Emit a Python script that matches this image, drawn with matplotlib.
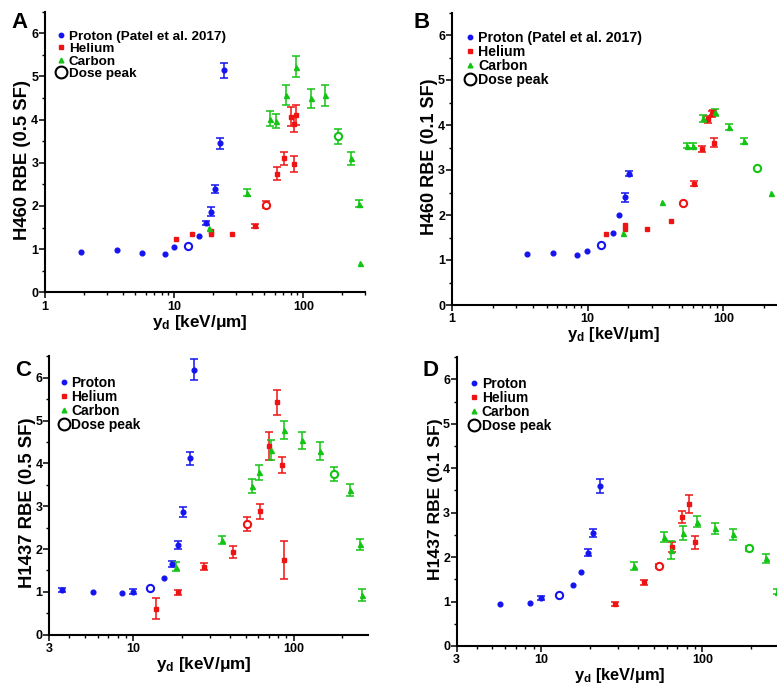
import numpy as np
import matplotlib
matplotlib.use("Agg")
import matplotlib.pyplot as plt
from matplotlib.lines import Line2D
from matplotlib.ticker import FixedLocator, NullFormatter, MultipleLocator

plt.rcParams['font.family'] = ['Liberation Sans', 'DejaVu Sans']
plt.rcParams['font.weight'] = 'bold'
plt.rcParams['axes.labelweight'] = 'bold'
plt.rcParams['mathtext.fontset'] = 'custom'
plt.rcParams['mathtext.bf'] = 'Liberation Sans:bold'
plt.rcParams['mathtext.rm'] = 'Liberation Sans:bold'
plt.rcParams['mathtext.it'] = 'Liberation Sans:bold'

# ---- H460, RBE at 0.5 SF ----
a_pro_x = [1.9, 3.6, 5.6, 8.45, 10.0, 15.7, 17.5, 19.2, 20.7, 22.8, 24.2]
a_pro_y = [0.93, 0.97, 0.92, 0.88, 1.05, 1.31, 1.61, 1.87, 2.39, 3.45, 5.14]
a_pro_e = [0, 0, 0, 0, 0, 0, 0.05, 0.1, 0.1, 0.12, 0.17]
a_he_x = [10.4, 13.7, 19.2, 19.2, 28.0, 42.2, 62.2, 71.3, 79.8, 84.7, 88.2, 84.7]
a_he_y = [1.24, 1.34, 1.35, 1.42, 1.36, 1.54, 2.75, 3.10, 4.07, 3.90, 4.11, 2.97]
a_he_e = [0, 0, 0, 0, 0, 0.04, 0.15, 0.16, 0.22, 0.18, 0.23, 0.18]
a_c_x = [18.6, 36.4, 55.6, 61.4, 73.0, 88.2, 114, 146, 232, 268, 272]
a_c_y = [1.50, 2.31, 4.02, 3.96, 4.57, 5.23, 4.49, 4.56, 3.11, 2.05, 0.67]
a_c_e = [0, 0.08, 0.17, 0.16, 0.24, 0.24, 0.21, 0.24, 0.15, 0.08, 0]
a_pk_x = [12.7, 51.4, 184]
a_pk_y = [1.07, 2.03, 3.61]
a_pk_e = [0, 0.08, 0.17]

# ---- H460, RBE at 0.1 SF ----
b_pro_x = [3.57, 5.57, 8.41, 9.91, 15.4, 17.2, 18.9, 20.2]
b_pro_y = [1.13, 1.16, 1.12, 1.21, 1.60, 1.99, 2.39, 2.92]
b_pro_e = [0, 0, 0, 0, 0, 0, 0.1, 0.05]
b_he_x = [13.6, 18.9, 18.9, 27.4, 41.2, 60.5, 69.2, 77.6, 82.0, 83.5, 85.9]
b_he_y = [1.58, 1.70, 1.78, 1.69, 1.87, 2.70, 3.46, 4.13, 4.24, 4.28, 3.61]
b_he_e = [0, 0, 0, 0, 0, 0.05, 0.07, 0.08, 0.07, 0.06, 0.1]
b_c_x = [18.3, 35.6, 53.7, 59.9, 70.8, 86.4, 111, 143, 225, 268]
b_c_y = [1.59, 2.28, 3.54, 3.54, 4.15, 4.28, 3.95, 3.64, 2.48, 1.55]
b_c_e = [0, 0, 0.05, 0.05, 0.08, 0.07, 0.07, 0.07, 0, 0]
b_pk_x = [12.5, 50.2, 176]
b_pk_y = [1.33, 2.26, 3.05]
b_pk_e = [0, 0, 0]

# ---- H1437, RBE at 0.5 SF ----
c_pro_x = [3.61, 5.64, 8.5, 10.0, 15.5, 17.4, 19.1, 20.5, 22.6, 24.0]
c_pro_y = [1.04, 0.99, 0.965, 1.0, 1.33, 1.64, 2.10, 2.86, 4.12, 6.19]
c_pro_e = [0.05, 0, 0, 0.06, 0, 0.07, 0.09, 0.11, 0.15, 0.24]
c_he_x = [13.8, 19.1, 27.7, 41.7, 61.4, 70.2, 78.3, 83.8, 87.1]
c_he_y = [0.61, 0.99, 1.59, 1.92, 2.88, 4.40, 5.43, 3.97, 1.75]
c_he_e = [0.25, 0.06, 0.09, 0.14, 0.17, 0.33, 0.29, 0.19, 0.44]
c_c_x = [18.5, 35.8, 55.1, 60.5, 72.3, 86.7, 112, 145, 225, 258, 266]
c_c_y = [1.59, 2.21, 3.47, 3.79, 4.31, 4.79, 4.54, 4.30, 3.38, 2.11, 0.93]
c_c_e = [0.1, 0.1, 0.17, 0.18, 0.23, 0.21, 0.2, 0.21, 0.14, 0.13, 0.14]
c_pk_x = [12.7, 50.9, 178]
c_pk_y = [1.09, 2.58, 3.75]
c_pk_e = [0, 0.17, 0.16]

# ---- H1437, RBE at 0.1 SF ----
d_pro_x = [5.54, 8.5, 10.05, 15.85, 17.8, 19.5, 21.1, 23.3]
d_pro_y = [0.94, 0.975, 1.08, 1.365, 1.67, 2.10, 2.55, 3.60]
d_pro_e = [0, 0, 0.05, 0, 0, 0.08, 0.09, 0.16]
d_he_x = [28.8, 43.7, 65.1, 74.5, 83.0, 89.6]
d_he_y = [0.95, 1.43, 2.23, 2.90, 3.19, 2.33]
d_he_e = [0.05, 0.06, 0.12, 0.13, 0.2, 0.15]
d_c_x = [37.7, 58.1, 64.3, 76.2, 93.1, 120, 156, 249, 290]
d_c_y = [1.79, 2.45, 2.16, 2.54, 2.80, 2.65, 2.51, 1.97, 1.22]
d_c_e = [0.09, 0.12, 0.2, 0.16, 0.12, 0.12, 0.12, 0.11, 0.06]
d_pk_x = [12.9, 53.6, 194]
d_pk_y = [1.155, 1.80, 2.20]
d_pk_e = [0, 0.05, 0.06]

BLUE = '#1414f0'
RED = '#ee1414'
GREEN = '#14c414'

W, H = 777, 684
fig = plt.figure(figsize=(W / 100, H / 100), dpi=100)


def add_panel(left, bottom, width, height):
    # pixel box measured from the top-left corner of the figure
    return fig.add_axes([left / W, (H - bottom) / H, width / W, height / H])


def style_axes(ax, xlim, xmajor, xminor, ylabel, ysize, ylab_y, xlab_x, xsize):
    ax.set_xscale('log')
    ax.set_xlim(*xlim)
    ax.set_ylim(0, 6.5)
    ax.xaxis.set_major_locator(FixedLocator(xmajor))
    ax.set_xticklabels([str(v) for v in xmajor])
    ax.xaxis.set_minor_locator(FixedLocator(xminor))
    ax.xaxis.set_minor_formatter(NullFormatter())
    ax.yaxis.set_major_locator(FixedLocator([0, 1, 2, 3, 4, 5, 6]))
    ax.yaxis.set_minor_locator(MultipleLocator(0.5))
    for s in ('top', 'right'):
        ax.spines[s].set_visible(False)
    for s in ('left', 'bottom'):
        ax.spines[s].set_linewidth(1.5)
    ax.tick_params(which='major', direction='out', length=4, width=1.1, labelsize=9)
    ax.tick_params(axis='x', which='major', pad=2)
    ax.tick_params(axis='y', which='major', pad=0.8)
    ax.tick_params(which='minor', direction='out', length=2.5, width=1.0)
    ax.set_xlabel(r'$\mathbf{y_d}$ [keV/μm]', fontsize=xsize, fontweight='bold', labelpad=0)
    ax.set_ylabel(ylabel, fontsize=ysize, fontweight='bold', labelpad=0)
    # y label sits around the middle of the 0-6 tick range, not the spine
    ax.yaxis.label.set_y(ylab_y)
    ax.xaxis.label.set_x(xlab_x)


def draw_series(ax, x, y, e, color, marker, ms):
    x = np.asarray(x, float)
    y = np.asarray(y, float)
    e = np.asarray(e, float)
    has = e > 0
    if has.any():
        ax.errorbar(x[has], y[has], yerr=e[has], fmt='none', ecolor=color,
                    elinewidth=1.1, capsize=2.6, capthick=1.1, zorder=2)
    ax.plot(x, y, linestyle='none', marker=marker, color=color, ms=ms,
            mec=color, zorder=3)


def draw_peaks(ax, x, y, e):
    for xi, yi, ei, col in zip(x, y, e, (BLUE, RED, GREEN)):
        if ei > 0:
            ax.errorbar([xi], [yi], yerr=[ei], fmt='none', ecolor=col,
                        elinewidth=1.1, capsize=2.6, capthick=1.1, zorder=2)
        ax.plot([xi], [yi], linestyle='none', marker='o', ms=5.2, mfc='white',
                mec=col, mew=1.5, zorder=4)


def add_legend(ax, proton_label, anchor, size):
    handles = [
        Line2D([], [], ls='none', marker='o', color=BLUE, ms=3.2),
        Line2D([], [], ls='none', marker='s', color=RED, ms=3.2),
        Line2D([], [], ls='none', marker='^', color=GREEN, ms=3.4),
        Line2D([], [], ls='none', marker='o', mfc='none', mec='black', ms=8.5, mew=1.5),
    ]
    labels = [proton_label, 'Helium', 'Carbon', 'Dose peak']
    ax.legend(handles, labels, loc='upper left', bbox_to_anchor=anchor,
              frameon=False, fontsize=size, borderpad=0, borderaxespad=0,
              labelspacing=0.0, handlelength=0.8, handletextpad=0.15)


minor_1 = [2, 3, 4, 5, 6, 7, 8, 9, 20, 30, 40, 50, 60, 70, 80, 90, 200, 300]
minor_3 = [4, 5, 6, 7, 8, 9, 20, 30, 40, 50, 60, 70, 80, 90, 200, 300]

panels = [
    dict(ax=add_panel(45, 292.3, 320.0, 280.6), xlim=(1, 300), xmaj=[1, 10, 100],
         xmin=minor_1, ylab='H460 RBE (0.5 SF)', ysize=13.3, ylab_y=0.473,
         xlab_x=0.483, xsize=12.3, plab='Proton (Patel et al. 2017)',
         pro=(a_pro_x, a_pro_y, a_pro_e), he=(a_he_x, a_he_y, a_he_e),
         car=(a_c_x, a_c_y, a_c_e), pk=(a_pk_x, a_pk_y, a_pk_e),
         letter='A', lpos=(19, 22), lanchor=(0.034, 0.934), lsize=9.7),
    dict(ax=add_panel(451.7, 305, 336.4, 292.5), xlim=(1, 300), xmaj=[1, 10, 100],
         xmin=minor_1, ylab='H460 RBE (0.1 SF)', ysize=13.0, ylab_y=0.508,
         xlab_x=0.482, xsize=12.0, plab='Proton (Patel et al. 2017)',
         pro=(b_pro_x, b_pro_y, b_pro_e), he=(b_he_x, b_he_y, b_he_e),
         car=(b_c_x, b_c_y, b_c_e), pk=(b_pk_x, b_pk_y, b_pk_e),
         letter='B', lpos=(422, 22), lanchor=(0.039, 0.938), lsize=10.2),
    dict(ax=add_panel(49.3, 634.7, 318.8, 278.4), xlim=(3, 290), xmaj=[3, 10, 100],
         xmin=minor_3[:-1], ylab='H1437 RBE (0.5 SF)', ysize=13.3, ylab_y=0.473,
         xlab_x=0.484, xsize=12.3, plab='Proton',
         pro=(c_pro_x, c_pro_y, c_pro_e), he=(c_he_x, c_he_y, c_he_e),
         car=(c_c_x, c_c_y, c_c_e), pk=(c_pk_x, c_pk_y, c_pk_e),
         letter='C', lpos=(23.5, 371), lanchor=(0.028, 0.931), lsize=10.0),
    dict(ax=add_panel(456.7, 646, 322.6, 288.9), xlim=(3, 300), xmaj=[3, 10, 100],
         xmin=minor_3, ylab='H1437 RBE (0.1 SF)', ysize=12.6, ylab_y=0.508,
         xlab_x=0.506, xsize=11.8, plab='Proton',
         pro=(d_pro_x, d_pro_y, d_pro_e), he=(d_he_x, d_he_y, d_he_e),
         car=(d_c_x, d_c_y, d_c_e), pk=(d_pk_x, d_pk_y, d_pk_e),
         letter='D', lpos=(430, 371), lanchor=(0.037, 0.932), lsize=10.0),
]

for p in panels:
    ax = p['ax']
    style_axes(ax, p['xlim'], p['xmaj'], p['xmin'], p['ylab'], p['ysize'],
               p['ylab_y'], p['xlab_x'], p['xsize'])
    draw_series(ax, *p['pro'], BLUE, 'o', 3.4)
    draw_series(ax, *p['he'], RED, 's', 3.5)
    draw_series(ax, *p['car'], GREEN, '^', 3.6)
    draw_peaks(ax, *p['pk'])
    add_legend(ax, p['plab'], p['lanchor'], p['lsize'])
    fig.text(p['lpos'][0] / W, 1 - p['lpos'][1] / H, p['letter'], fontsize=16,
             fontweight='bold', ha='center', va='center')

fig.savefig('out.png', dpi=100)
